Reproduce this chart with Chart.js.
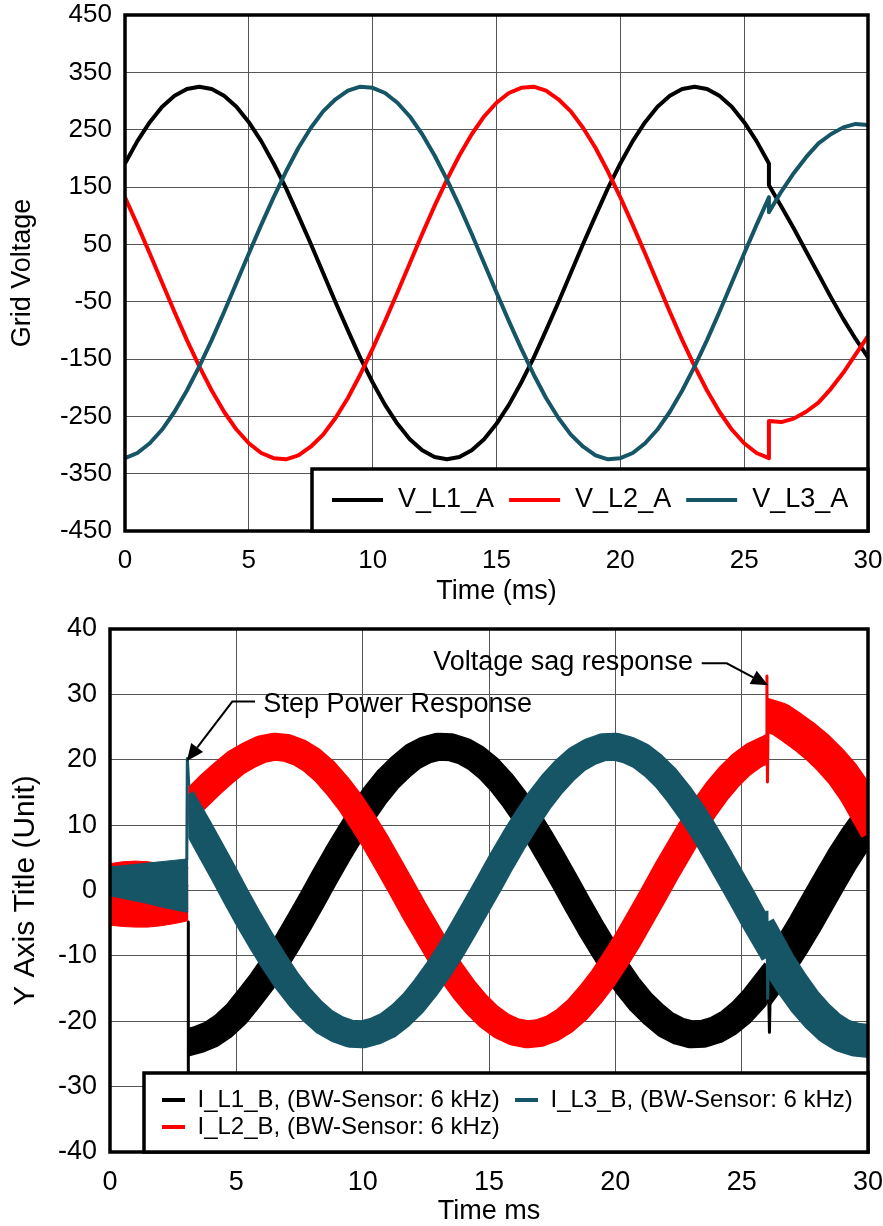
<!DOCTYPE html>
<html lang="en">

<head>
    <meta charset="UTF-8">
    <title>Grid voltage and phase currents</title>
    <script src="https://cdn.jsdelivr.net/npm/chart.js/dist/chart.umd.min.js"></script>
    <style>
        body { margin: 0; background: #fff; }
        .panel { position: absolute; left: 0; }
    </style>
</head>

<body>
    <div class="panel" style="top:0"><canvas id="voltChart" width="883" height="610"></canvas></div>
    <div class="panel" style="top:610px"><canvas id="currChart" width="883" height="616"></canvas></div>
    <script>
        // ---------- top chart: grid voltage ----------
        const tVolt = [0, 0.5, 1, 1.5, 2, 2.5, 3, 3.5, 4, 4.5, 5, 5.5, 6, 6.5, 7, 7.5, 8, 8.5, 9, 9.5,
            10, 10.5, 11, 11.5, 12, 12.5, 13, 13.5, 14, 14.5, 15, 15.5, 16, 16.5, 17, 17.5, 18, 18.5, 19, 19.5,
            20, 20.5, 21, 21.5, 22, 22.5, 23, 23.5, 24, 24.5, 25, 25.5, 26, 26, 26.5, 27, 27.5, 28, 28.5, 29, 29.5, 30];
        const vL1 = [191, 230, 263, 290, 309, 321, 325, 321, 309, 290, 263, 230, 191, 148, 100, 51, 0, -51, -100, -148,
            -191, -230, -263, -290, -309, -321, -325, -321, -309, -290, -263, -230, -191, -148, -100, -51, 0, 51, 100, 148,
            191, 230, 263, 290, 309, 321, 325, 321, 309, 290, 263, 230, 191, 153, 116, 78, 38, -2, -42, -80, -115, -147];
        const vL2 = [132, 84, 34, -17, -68, -117, -163, -205, -242, -273, -297, -314, -323, -325, -318, -303, -282, -253, -218, -177,
            -132, -84, -34, 17, 68, 117, 163, 205, 242, 273, 297, 314, 323, 325, 318, 303, 282, 253, 218, 177,
            132, 84, 34, -17, -68, -117, -163, -205, -242, -273, -297, -314, -323, -258, -260, -254, -242, -226, -202, -174, -142, -110];
        const vL3 = [-323, -314, -297, -273, -242, -205, -163, -117, -68, -17, 34, 84, 132, 177, 218, 253, 282, 303, 318, 325,
            323, 314, 297, 273, 242, 205, 163, 117, 68, 17, -34, -84, -132, -177, -218, -253, -282, -303, -318, -325,
            -323, -314, -297, -273, -242, -205, -163, -117, -68, -17, 34, 84, 132, 106, 142, 174, 202, 226, 242, 254, 260, 258];
        const voltNames = ['V_L1_A', 'V_L2_A', 'V_L3_A'];
        const voltTicks = [-450, -350, -250, -150, -50, 50, 150, 250, 350, 450];
        const timeTicks = [0, 5, 10, 15, 20, 25, 30];

        // ---------- bottom chart: phase currents ----------
        // before the power step: ripple bands (upper / lower edge)
        const tPre = [0, 0.5, 1, 1.5, 2, 2.5, 3, 3.1];
        const iL1PreHi = [1.2, 1.5, 1.7, 1.8, 1.6, 1.3, 0.9, 0.8];
        const iL1PreLo = [-2.0, -1.7, -1.5, -1.6, -1.9, -2.3, -2.7, -2.8];
        const iL2PreHi = [4.1, 4.4, 4.5, 4.4, 4.1, 3.8, 3.5, 3.5];
        const iL2PreLo = [-5.3, -5.5, -5.6, -5.6, -5.4, -5.1, -4.7, -4.6];
        const iL3PreHi = [3.6, 3.8, 4.0, 4.2, 4.4, 4.6, 4.8, 4.8];
        const iL3PreLo = [-0.8, -1.2, -1.6, -2.0, -2.5, -2.9, -3.3, -3.3];
        // after the step, until the voltage sag (band centre)
        const tRun = [3.1, 3.5, 4, 4.5, 5, 5.5, 6, 6.5, 7, 7.5, 8, 8.5, 9, 9.5, 10, 10.5, 11, 11.5, 12, 12.5,
            13, 13.5, 14, 14.5, 15, 15.5, 16, 16.5, 17, 17.5, 18, 18.5, 19, 19.5, 20, 20.5, 21, 21.5, 22, 22.5,
            23, 23.5, 24, 24.5, 25, 25.5, 26];
        const iL1Run = [-23.2, -22.8, -22.0, -20.7, -18.9, -16.5, -14.0, -11.2, -8.1, -4.8, -1.4, 2.1, 5.5, 8.7, 11.8, 14.6, 17.0, 18.9, 20.5, 21.5,
            22.0, 21.9, 21.3, 20.2, 18.6, 16.5, 14.0, 11.2, 8.1, 4.8, 1.4, -2.1, -5.5, -8.7, -11.8, -14.6, -17.0, -18.9, -20.5, -21.5,
            -22.0, -21.9, -21.3, -20.2, -18.6, -16.5, -14.0];
        const iL2Run = [13.0, 14.4, 16.3, 18.0, 19.6, 20.7, 21.6, 22.0, 21.8, 21.1, 19.9, 18.2, 16.0, 13.5, 10.6, 7.5, 4.1, 0.7, -2.8, -6.1,
            -9.4, -12.4, -15.1, -17.4, -19.3, -20.7, -21.6, -22.0, -21.8, -21.1, -19.9, -18.2, -16.0, -13.5, -10.6, -7.5, -4.1, -0.7, 2.8, 6.1,
            9.4, 12.4, 15.1, 17.4, 19.3, 20.7, 21.6];
        const iL3Run = [12.3, 9.6, 6.1, 2.6, -1.0, -4.5, -7.8, -10.9, -13.8, -16.3, -18.4, -20.1, -21.2, -21.9, -22.0, -21.5, -20.6, -19.1, -17.2, -14.8,
            -12.1, -9.1, -5.8, -2.4, 1.0, 4.5, 7.8, 10.9, 13.8, 16.3, 18.4, 20.1, 21.2, 21.9, 22.0, 21.5, 20.6, 19.1, 17.2, 14.8,
            12.1, 9.1, 5.8, 2.4, -1.0, -4.5, -7.8];
        // after the voltage sag
        const tSag = [26, 26.5, 27, 27.5, 28, 28.5, 29, 29.5, 30];
        const iL1Sag = [-14.0, -11.4, -8.4, -5.2, -1.8, 1.6, 4.9, 7.9, 10.6];
        const iL2Sag = [26.8, 26.2, 24.9, 23.5, 21.9, 20.0, 17.8, 15.0, 11.6];
        const iL3Sag = [-7.8, -11.3, -14.3, -17.0, -19.2, -21.0, -22.2, -22.8, -23.0];
        // short transients
        const tL1StepSpike = [3.1, 3.1], iL1StepSpike = [-4.8, -28.5];
        const tL3StepSpike = [3.04, 3.06, 3.12], iL3StepSpike = [4.8, 20.2, 16.0];
        const tL2SagSpike = [25.98, 26.0, 26.02, 26.05], iL2SagSpike = [22.3, 32.8, 16.6, 26.8];
        const tL1SagSpike = [26.06, 26.1, 26.14], iL1SagSpike = [-14.0, -21.7, -13.0];
        const tL3SagSpike = [26.0, 26.03, 26.07], iL3SagSpike = [-3.1, -16.5, -9.0];
        const currNames = ['I_L1_B, (BW-Sensor: 6 kHz)', 'I_L2_B, (BW-Sensor: 6 kHz)', 'I_L3_B, (BW-Sensor: 6 kHz)'];
        const currTicks = [-40, -30, -20, -10, 0, 10, 20, 30, 40];
        const tStep = 3.1, tDip = 26;

        const notes = [
            { text: 'Step Power Response', at: [6.07, 28.4], align: 'left', path: [[5.74, 28.9], [4.84, 28.9], [3.04, 19.8]] },
            { text: 'Voltage sag response', at: [23.07, 34.8], align: 'right', path: [[23.42, 34.75], [24.41, 34.75], [26.05, 31.4]] }
        ];

        const FONT = '"Liberation Sans", Arial, Helvetica, sans-serif';
        const COL = ['#000000', '#ff0000', '#155565'];
        const GRID = '#555555';

        const pts = (xs, ys) => xs.map((x, i) => ({ x: x, y: ys[i] }));

        function trace(xs, ys, color, width, order, more) {
            return Object.assign({
                data: pts(xs, ys), borderColor: color, backgroundColor: color,
                borderWidth: width, pointRadius: 0, pointHoverRadius: 0, tension: 0,
                fill: false, clip: 0, order: order, borderJoinStyle: 'round'
            }, more || {});
        }

        function axes(o) {
            return {
                x: {
                    type: 'linear', min: 0, max: 30,
                    afterBuildTicks: s => { s.ticks = timeTicks.map(v => ({ value: v })); },
                    afterFit: s => { s.height = o.xh; s.paddingLeft = 0; s.paddingRight = 0; },
                    grid: { color: GRID, lineWidth: 1, drawTicks: false },
                    border: { display: false },
                    ticks: { color: '#000', padding: o.xpad, maxRotation: 0, font: { family: FONT, size: o.tick, lineHeight: 1 } },
                    title: { display: true, text: o.xtitle, color: '#000', font: { family: FONT, size: 27, lineHeight: 1 }, padding: { top: 0, bottom: o.xtpad } }
                },
                y: {
                    type: 'linear', min: o.yticks[0], max: o.yticks[o.yticks.length - 1],
                    afterBuildTicks: s => { s.ticks = o.yticks.map(v => ({ value: v })); },
                    afterFit: s => { s.width = o.yw; s.paddingTop = 0; s.paddingBottom = 0; },
                    grid: { color: GRID, lineWidth: 1, drawTicks: false },
                    border: { display: false },
                    ticks: { color: '#000', padding: 13, font: { family: FONT, size: o.tick, lineHeight: 1 } },
                    title: { display: true, text: o.ytitle, color: '#000', font: { family: FONT, size: o.ytsize, lineHeight: 1 }, padding: { top: o.ytpad, bottom: 0 } }
                }
            };
        }

        // clip a dataset to its own time window, draw the frame
        const framePlugin = {
            id: 'frame',
            beforeDatasetDraw(chart, args) {
                const ds = chart.data.datasets[args.index];
                if (!ds.xRange) return;
                const a = chart.chartArea, sx = chart.scales.x;
                const x0 = sx.getPixelForValue(ds.xRange[0]), x1 = sx.getPixelForValue(ds.xRange[1]);
                chart.ctx.save();
                chart.ctx.beginPath();
                chart.ctx.rect(x0, a.top, x1 - x0, a.bottom - a.top);
                chart.ctx.clip();
            },
            afterDatasetDraw(chart, args) {
                if (chart.data.datasets[args.index].xRange) chart.ctx.restore();
            },
            afterDraw(chart) {
                const { ctx, chartArea: a } = chart;
                ctx.save();
                ctx.strokeStyle = '#000';
                ctx.lineWidth = 3.5;
                ctx.strokeRect(a.left, a.top, a.right - a.left, a.bottom - a.top);
                ctx.restore();
            }
        };

        function legendBox(ctx, l, t, r, b) {
            ctx.fillStyle = '#fff';
            ctx.fillRect(l, t, r - l, b - t);
            ctx.strokeStyle = '#000';
            ctx.lineWidth = 3.5;
            ctx.strokeRect(l, t, r - l, b - t);
        }

        function sample(ctx, x, y, len, color) {
            ctx.strokeStyle = color;
            ctx.lineWidth = 4;
            ctx.beginPath();
            ctx.moveTo(x, y);
            ctx.lineTo(x + len, y);
            ctx.stroke();
        }

        const voltLegend = {
            id: 'voltLegend',
            afterDraw(chart) {
                const { ctx, chartArea: a } = chart;
                ctx.save();
                legendBox(ctx, a.right - 556, a.bottom - 62, a.right, a.bottom);
                ctx.font = '27px ' + FONT;
                ctx.textBaseline = 'middle';
                ctx.textAlign = 'left';
                let x = a.right - 536;
                const y = a.bottom - 31;
                voltNames.forEach((name, i) => {
                    sample(ctx, x, y, 51, COL[i]);
                    ctx.fillStyle = '#000';
                    ctx.fillText(name, x + 66, y);
                    x += 66 + ctx.measureText(name).width + 15;
                });
                ctx.restore();
            }
        };

        const currLegend = {
            id: 'currLegend',
            afterDraw(chart) {
                const { ctx, chartArea: a, scales } = chart;
                ctx.save();
                const l = a.right - 724, t = a.bottom - 79;
                legendBox(ctx, l, t, a.right, a.bottom);
                ctx.font = '24px ' + FONT;
                ctx.textBaseline = 'middle';
                ctx.textAlign = 'left';
                const slots = [[l + 18, t + 27], [l + 18, t + 54], [l + 371, t + 27]];
                currNames.forEach((name, i) => {
                    const [x, y] = slots[i];
                    sample(ctx, x, y, 23, COL[i]);
                    ctx.fillStyle = '#000';
                    ctx.fillText(name, x + 35.5, y);
                });
                // call-outs
                notes.forEach(n => {
                    const P = n.path.map(p => [scales.x.getPixelForValue(p[0]), scales.y.getPixelForValue(p[1])]);
                    const [tx, ty] = P[P.length - 1];
                    const [px, py] = P[P.length - 2];
                    const ang = Math.atan2(ty - py, tx - px);
                    const head = 17, half = 7.5;
                    const bx = tx - head * Math.cos(ang), by = ty - head * Math.sin(ang);
                    ctx.strokeStyle = '#000';
                    ctx.fillStyle = '#000';
                    ctx.lineWidth = 2;
                    ctx.beginPath();
                    ctx.moveTo(P[0][0], P[0][1]);
                    for (let i = 1; i < P.length - 1; i++) ctx.lineTo(P[i][0], P[i][1]);
                    ctx.lineTo(bx, by);
                    ctx.stroke();
                    ctx.beginPath();
                    ctx.moveTo(tx, ty);
                    ctx.lineTo(bx + half * Math.sin(ang), by - half * Math.cos(ang));
                    ctx.lineTo(bx - half * Math.sin(ang), by + half * Math.cos(ang));
                    ctx.closePath();
                    ctx.fill();
                    ctx.font = '27px ' + FONT;
                    ctx.textAlign = n.align;
                    ctx.fillText(n.text, scales.x.getPixelForValue(n.at[0]), scales.y.getPixelForValue(n.at[1]));
                });
                ctx.restore();
            }
        };

        // top chart
        new Chart(document.getElementById('voltChart'), {
            type: 'line',
            data: {
                datasets: [
                    trace(tVolt, vL3, COL[2], 4, 0),
                    trace(tVolt, vL2, COL[1], 4, 1),
                    trace(tVolt, vL1, COL[0], 4, 2)
                ]
            },
            options: {
                responsive: false,
                animation: false,
                events: [],
                layout: { padding: { top: 15, right: 15, bottom: 0, left: 0 } },
                plugins: { legend: { display: false }, tooltip: { enabled: false } },
                scales: axes({ xh: 79, xpad: 17, tick: 26, xtitle: 'Time (ms)', xtpad: 5, yw: 125, yticks: voltTicks, ytitle: 'Grid Voltage', ytsize: 27, ytpad: 9.5 })
            },
            plugins: [framePlugin, voltLegend]
        });

        // bottom chart
        const run = { xRange: [tStep, tDip], borderCapStyle: 'square' };
        const sag = { xRange: [tDip, 30], borderCapStyle: 'square' };
        new Chart(document.getElementById('currChart'), {
            type: 'line',
            data: {
                datasets: [
                    // L3 (top layer)
                    trace(tPre, iL3PreHi, COL[2], 1, 0),
                    trace(tPre, iL3PreLo, COL[2], 1, 0, { fill: '-1' }),
                    trace(tRun, iL3Run, COL[2], 28, 0, run),
                    trace(tSag, iL3Sag, COL[2], 34, 0, sag),
                    trace(tL3StepSpike, iL3StepSpike, COL[2], 3, 0),
                    trace(tL3SagSpike, iL3SagSpike, COL[2], 3, 0),
                    // L2
                    trace(tPre, iL2PreHi, COL[1], 1, 1),
                    trace(tPre, iL2PreLo, COL[1], 1, 1, { fill: '-1' }),
                    trace(tRun, iL2Run, COL[1], 28, 1, run),
                    trace(tSag, iL2Sag, COL[1], 34, 1, sag),
                    trace(tL2SagSpike, iL2SagSpike, COL[1], 3, 1),
                    // L1 (bottom layer)
                    trace(tPre, iL1PreHi, COL[0], 1, 2),
                    trace(tPre, iL1PreLo, COL[0], 1, 2, { fill: '-1' }),
                    trace(tRun, iL1Run, COL[0], 28, 2, run),
                    trace(tSag, iL1Sag, COL[0], 34, 2, sag),
                    trace(tL1StepSpike, iL1StepSpike, COL[0], 3, 2),
                    trace(tL1SagSpike, iL1SagSpike, COL[0], 3, 2)
                ]
            },
            options: {
                responsive: false,
                animation: false,
                events: [],
                layout: { padding: { top: 19, right: 15, bottom: 0, left: 0 } },
                plugins: { legend: { display: false }, tooltip: { enabled: false } },
                scales: axes({ xh: 74, xpad: 17, tick: 27, xtitle: 'Time ms', xtpad: 1, yw: 110, yticks: currTicks, ytitle: 'Y Axis Title (Unit)', ytsize: 30, ytpad: 11 })
            },
            plugins: [framePlugin, currLegend]
        });
    </script>
</body>

</html>
